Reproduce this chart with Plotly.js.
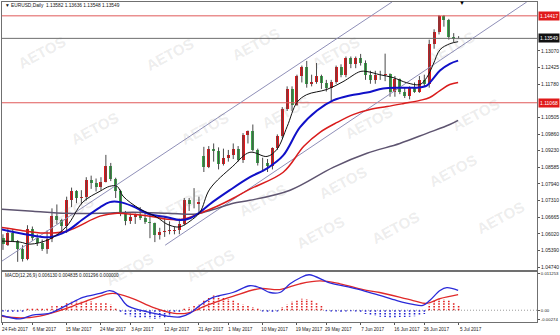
<!DOCTYPE html>
<html><head><meta charset="utf-8">
<script src="https://cdn.plot.ly/plotly-3.0.1.min.js"></script>
<style>html,body{margin:0;padding:0;background:#fff}#c{width:560px;height:335px}</style>
</head><body><div id="c"></div>
<script>
// ---- categories (trading days) ----
const dates = ['2017-02-24','2017-02-27','2017-02-28','2017-03-01','2017-03-02','2017-03-03','2017-03-06','2017-03-07','2017-03-08','2017-03-09','2017-03-10','2017-03-13','2017-03-14','2017-03-15','2017-03-16','2017-03-17','2017-03-20','2017-03-21','2017-03-22','2017-03-23','2017-03-24','2017-03-27','2017-03-28','2017-03-29','2017-03-30','2017-03-31','2017-04-03','2017-04-04','2017-04-05','2017-04-06','2017-04-07','2017-04-10','2017-04-11','2017-04-12','2017-04-13','2017-04-14','2017-04-17','2017-04-18','2017-04-19','2017-04-20','2017-04-21','2017-04-24','2017-04-25','2017-04-26','2017-04-27','2017-04-28','2017-05-01','2017-05-02','2017-05-03','2017-05-04','2017-05-05','2017-05-08','2017-05-09','2017-05-10','2017-05-11','2017-05-12','2017-05-15','2017-05-16','2017-05-17','2017-05-18','2017-05-19','2017-05-22','2017-05-23','2017-05-24','2017-05-25','2017-05-26','2017-05-29','2017-05-30','2017-05-31','2017-06-01','2017-06-02','2017-06-05','2017-06-06','2017-06-07','2017-06-08','2017-06-09','2017-06-12','2017-06-13','2017-06-14','2017-06-15','2017-06-16','2017-06-19','2017-06-20','2017-06-21','2017-06-22','2017-06-23','2017-06-26','2017-06-27','2017-06-28','2017-06-29','2017-06-30','2017-07-03','2017-07-04','2017-07-05'];

// ---- OHLC ----
const open  = [1.0585,1.0560,1.0605,1.0575,1.0545,1.0505,1.0620,1.0585,1.0567,1.0543,1.0582,1.0671,1.0655,1.0633,1.0732,1.0765,1.0740,1.0742,1.0810,1.0797,1.0783,1.0800,1.0865,1.0815,1.0766,1.0677,1.0652,1.0667,1.0673,1.0664,1.0648,1.0643,1.0598,1.0608,1.0612,1.0613,1.0617,1.0641,1.0733,1.0717,1.0715,1.0900,1.0860,1.0930,1.0922,1.0872,1.0895,1.0905,1.0930,1.0885,1.0983,1.0998,1.0925,1.0875,1.0873,1.0862,1.0933,1.0980,1.1082,1.1160,1.1100,1.1208,1.1243,1.1180,1.1185,1.1210,1.1182,1.1165,1.1185,1.1245,1.1215,1.1280,1.1255,1.1280,1.1260,1.1212,1.1196,1.1215,1.1212,1.1216,1.1150,1.1197,1.1150,1.1132,1.1165,1.1150,1.1195,1.1180,1.1335,1.1378,1.1442,1.1425,1.1360,1.13582];
const high  = [1.0600,1.0620,1.0620,1.0578,1.0558,1.0635,1.0630,1.0600,1.0580,1.0615,1.0700,1.0715,1.0660,1.0745,1.0780,1.0770,1.0770,1.0820,1.0826,1.0815,1.0820,1.0906,1.0875,1.0818,1.0772,1.0690,1.0680,1.0680,1.0705,1.0685,1.0680,1.0645,1.0625,1.0665,1.0650,1.0630,1.0660,1.0740,1.0740,1.0778,1.0745,1.0937,1.0940,1.0950,1.0935,1.0930,1.0925,1.0950,1.0940,1.0990,1.1000,1.1023,1.0930,1.0895,1.0890,1.0935,1.0985,1.1090,1.1170,1.1170,1.1215,1.1250,1.1268,1.1215,1.1260,1.1215,1.1195,1.1195,1.1250,1.1255,1.1285,1.1285,1.1285,1.1295,1.1270,1.1230,1.1230,1.1230,1.1296,1.1220,1.1210,1.1200,1.1165,1.1170,1.1185,1.1210,1.1215,1.1350,1.1390,1.1445,1.1445,1.1430,1.1375,1.13636];
const low   = [1.0540,1.0555,1.0570,1.0494,1.0495,1.0500,1.0575,1.0555,1.0536,1.0525,1.0570,1.0640,1.0600,1.0605,1.0705,1.0720,1.0715,1.0730,1.0775,1.0765,1.0770,1.0800,1.0805,1.0740,1.0670,1.0635,1.0640,1.0640,1.0655,1.0640,1.0585,1.0570,1.0580,1.0590,1.0600,1.0600,1.0600,1.0635,1.0690,1.0700,1.0680,1.0840,1.0855,1.0880,1.0850,1.0865,1.0880,1.0890,1.0880,1.0875,1.0950,1.0920,1.0865,1.0840,1.0840,1.0850,1.0925,1.0970,1.1075,1.1075,1.1095,1.1185,1.1165,1.1170,1.1180,1.1160,1.1150,1.1110,1.1180,1.1205,1.1205,1.1240,1.1240,1.1250,1.1195,1.1180,1.1180,1.1195,1.1190,1.1130,1.1130,1.1140,1.1125,1.1120,1.1145,1.1145,1.1170,1.1165,1.1315,1.1370,1.1400,1.1350,1.1340,1.13548];
const close = [1.0562,1.0605,1.0575,1.0545,1.0505,1.0620,1.0585,1.0567,1.0543,1.0582,1.0671,1.0655,1.0633,1.0732,1.0765,1.0740,1.0742,1.0810,1.0797,1.0783,1.0800,1.0865,1.0815,1.0766,1.0677,1.0652,1.0667,1.0673,1.0664,1.0648,1.0643,1.0598,1.0608,1.0612,1.0613,1.0617,1.0641,1.0733,1.0717,1.0715,1.0726,1.0860,1.0930,1.0922,1.0872,1.0895,1.0905,1.0930,1.0885,1.0983,1.0998,1.0925,1.0875,1.0873,1.0862,1.0933,1.0980,1.1082,1.1160,1.1100,1.1208,1.1243,1.1180,1.1185,1.1210,1.1182,1.1165,1.1185,1.1245,1.1215,1.1280,1.1255,1.1280,1.1260,1.1212,1.1196,1.1215,1.1212,1.1216,1.1150,1.1197,1.1150,1.1132,1.1165,1.1150,1.1195,1.1180,1.1335,1.1378,1.1442,1.1425,1.1360,1.1351,1.13549];

// ---- moving averages (bar index, price) ----
const maBlackIdx = [-0.5,3.5,5.5,9.6,13,16.3,19.8,21.8,23.3,24.5,28,31.4,33.5,35.5,36.5,38.2,40.2,42.2,46.9,50.4,53.9,55.9,58,60,62,66.1,69.4,72.9,74.3,76.9,79.6,82.4,85.1,86.5,87.8,89.2,91.2,92.9];
const maBlackVal = [1.0574,1.0570,1.0562,1.0582,1.0631,1.0724,1.0766,1.0785,1.0785,1.0747,1.0697,1.0666,1.0639,1.0628,1.0631,1.0651,1.0685,1.0774,1.0862,1.0916,1.0900,1.0927,1.1015,1.1108,1.1138,1.1158,1.1188,1.1227,1.1227,1.1215,1.1204,1.1184,1.1177,1.1204,1.1254,1.1311,1.1334,1.1342];
const maBlueIdx = [-0.5,5.5,9.6,13,16.3,19.8,21.8,23.9,26.5,30,33.5,36.1,38.2,40.2,42.2,46.3,50.4,53.9,57.2,60.6,64.1,67.4,70.8,74.3,77.6,81,84.5,86.5,87.8,89.2,91.2,92.9];
const maBlueVal = [1.0620,1.0597,1.0589,1.0612,1.0658,1.0704,1.0724,1.0724,1.0708,1.0677,1.0666,1.0655,1.0662,1.0685,1.0716,1.0770,1.0820,1.0854,1.0904,1.1012,1.1077,1.1116,1.1135,1.1146,1.1162,1.1165,1.1165,1.1173,1.1200,1.1231,1.1257,1.1269];
const maRedIdx = [-0.5,3.5,8.2,13,19.8,23.3,26.5,30,33.5,36.7,40.2,43.7,47,50.4,57.2,61.4,64.7,68.2,71.6,74.9,78.4,81.8,85.1,87.1,89.2,91.2,92.9];
const maRedVal = [1.0627,1.0616,1.0605,1.0612,1.0670,1.0681,1.0677,1.0670,1.0658,1.0658,1.0681,1.0708,1.0739,1.0774,1.0839,1.0939,1.0993,1.1031,1.1062,1.1081,1.1092,1.1104,1.1116,1.1127,1.1154,1.1177,1.1185];
const maGreyIdx = [-0.5,6.1,13,19.8,26.5,33.5,38.8,40.2,43.7,47,50.4,58.6,67.4,74.3,81,86.5,91.2,92.9];
const maGreyVal = [1.0697,1.0689,1.0681,1.0681,1.0685,1.0681,1.0677,1.0681,1.0700,1.0720,1.0731,1.0770,1.0858,1.0912,1.0950,1.0989,1.1023,1.1039];

// ---- channel lines & levels ----
const chanUpperIdx = [-0.2, 79.4], chanUpperVal = [1.0497, 1.1495];
const chanLowerIdx = [33.1, 106.9], chanLowerVal = [1.0558, 1.1495];
const redLevels = [1.14417, 1.11068];
const bidLevel = 1.13549;

// ---- MACD (12,26,9) ----
const macdIdx = [-0.5,3.5,6,9.6,13,16.3,19.8,21.8,23.3,25.3,28,30.6,33.5,36.1,38.2,40.2,42.9,46.9,50.4,52.4,54.5,56.5,58.6,60.6,62.5,66.7,70.2,73.5,76.9,80.4,83.7,85.7,87.1,89.2,90.6,92.9];
const macdVal = [-0.0015,-0.0027,-0.0015,-0.0009,0.0015,0.0040,0.0052,0.0061,0.0052,0.0015,0.0000,-0.0009,-0.0018,-0.0021,-0.0009,0.0015,0.0040,0.0055,0.0076,0.0070,0.0055,0.0055,0.0082,0.0100,0.0110,0.0085,0.0073,0.0061,0.0046,0.0030,0.0018,0.0015,0.0030,0.0061,0.0070,0.00613];
const signalIdx = [-0.5,3.5,7.5,13,18.4,22.4,26.5,30.6,34.7,37.6,41.6,46.9,52.4,56.5,60.6,64.7,68.8,73.5,76.9,83.7,86.5,89.2,92.9];
const signalVal = [-0.0018,-0.0024,-0.0018,0.0006,0.0036,0.0052,0.0036,0.0009,-0.0009,-0.0009,0.0015,0.0043,0.0067,0.0064,0.0082,0.0091,0.0082,0.0064,0.0055,0.0030,0.0021,0.0036,0.004835];
const histVal = [-0.0004,-0.0005,-0.0005,-0.0006,-0.0005,0.0006,0.0007,0.0006,0.0007,0.0008,0.0012,0.0016,0.0017,0.0022,0.0026,0.0027,0.0026,0.0028,0.0027,0.0024,0.0022,0.0022,0.0018,0.0008,-0.0008,-0.0015,-0.0019,-0.0022,-0.0024,-0.0025,-0.0026,-0.0027,-0.0026,-0.0024,-0.0020,-0.0012,-0.0006,0.0006,0.0010,0.0013,0.0018,0.0030,0.0040,0.0046,0.0045,0.0040,0.0035,0.0030,0.0022,0.0018,0.0014,0.0010,0.0006,-0.0004,-0.0006,-0.0006,-0.0004,0.0010,0.0018,0.0026,0.0032,0.0036,0.0035,0.0030,0.0024,0.0015,-0.0003,-0.0004,-0.0004,-0.0005,-0.0004,-0.0003,-0.0004,-0.0008,-0.0012,-0.0016,-0.0018,-0.0020,-0.0021,-0.0022,-0.0022,-0.0021,-0.0021,-0.0020,-0.0019,-0.0017,-0.0012,0.0018,0.0030,0.0036,0.0034,0.0030,0.0022,0.0013];

// ---- axis labels ----
const priceTicks = [1.13070,1.12425,1.11780,1.10505,1.09860,1.09230,1.08585,1.07940,1.07310,1.06665,1.06020,1.05390,1.04740];
const priceTickText = ['1.13070','1.12425','1.11780','1.10505','1.09860','1.09230','1.08585','1.07940','1.07310','1.06665','1.06020','1.05390','1.04740'];
const macdTicks = [0.011253, 0, -0.00274];
const macdTickText = ['0.011253','0.00','-0.00274'];
const tickDates = ['2017-02-24','2017-03-06','2017-03-15','2017-03-24','2017-04-03','2017-04-12','2017-04-21','2017-05-01','2017-05-10','2017-05-19','2017-05-29','2017-06-07','2017-06-16','2017-06-26','2017-07-05'];
const tickLabels = ['24 Feb 2017','6 Mar 2017','15 Mar 2017','24 Mar 2017','3 Apr 2017','12 Apr 2017','21 Apr 2017','1 May 2017','10 May 2017','19 May 2017','29 May 2017','7 Jun 2017','16 Jun 2017','26 Jun 2017','5 Jul 2017'];
const headerText = 'EURUSD,Daily  1.13582 1.13636 1.13548 1.13549';
const macdHeader = 'MACD(12,26,9) 0.006130 0.004835 0.001296 0.000000';
const watermark = 'AETOS';

// ---- build ----
const idx = dates.map((d,i)=>i);
const upCol = '#e3161b', dnCol = '#3aa64a';
const wx=[], wy=[];
idx.forEach(i=>{wx.push(i,i,null); wy.push(low[i],high[i],null);});
const bodyBase = idx.map(i=>Math.min(open[i],close[i]));
const bodyLen = idx.map(i=>Math.max(Math.abs(close[i]-open[i]),0.0003));
const bodyCol = idx.map(i=>close[i]>=open[i]?upCol:dnCol);

const hpx=[],hpy=[],hnx=[],hny=[];
histVal.forEach((v,i)=>{ if(v>=0){hpx.push(i,i,null);hpy.push(0,v,null);} else {hnx.push(i,i,null);hny.push(0,v,null);} });

const X0=-0.2, X1=109;
const traces = [
 {type:'scatter',mode:'lines',x:wx,y:wy,line:{color:'#4a4a4a',width:1},hoverinfo:'skip'},
 {type:'bar',x:idx,base:bodyBase,y:bodyLen,width:0.62,marker:{color:bodyCol,line:{width:0}},hoverinfo:'skip'},
 {type:'scatter',mode:'lines',x:[X0,X1],y:[redLevels[0],redLevels[0]],line:{color:'#e05a5a',width:1}},
 {type:'scatter',mode:'lines',x:[X0,X1],y:[redLevels[1],redLevels[1]],line:{color:'#e05a5a',width:1}},
 {type:'scatter',mode:'lines',x:[X0,X1],y:[bidLevel,bidLevel],line:{color:'#6e6e6e',width:1}},
 {type:'scatter',mode:'lines',x:chanUpperIdx,y:chanUpperVal,line:{color:'#8f8fb8',width:1}},
 {type:'scatter',mode:'lines',x:chanLowerIdx,y:chanLowerVal,line:{color:'#8f8fb8',width:1}},
 {type:'scatter',mode:'lines',x:maGreyIdx,y:maGreyVal,line:{color:'#5e5470',width:1.5,shape:'spline'}},
 {type:'scatter',mode:'lines',x:maRedIdx,y:maRedVal,line:{color:'#d91c1c',width:1.5,shape:'spline'}},
 {type:'scatter',mode:'lines',x:maBlueIdx,y:maBlueVal,line:{color:'#1010c8',width:2,shape:'spline'}},
 {type:'scatter',mode:'lines',x:maBlackIdx,y:maBlackVal,line:{color:'#111111',width:1,shape:'spline'}},
 // MACD
 {type:'scatter',mode:'lines',x:[X0,X1],y:[0,0],xaxis:'x2',yaxis:'y2',line:{color:'#9a9a9a',width:1,dash:'1px,2px'}},
 {type:'scatter',mode:'lines',x:hpx,y:hpy,xaxis:'x2',yaxis:'y2',line:{color:'#e02020',width:1.6,dash:'1.5px,1.2px'}},
 {type:'scatter',mode:'lines',x:hnx,y:hny,xaxis:'x2',yaxis:'y2',line:{color:'#2020d0',width:1.6,dash:'1.5px,1.2px'}},
 {type:'scatter',mode:'lines',x:signalIdx,y:signalVal,xaxis:'x2',yaxis:'y2',line:{color:'#e02a2a',width:1.3,shape:'spline'}},
 {type:'scatter',mode:'lines',x:macdIdx,y:macdVal,xaxis:'x2',yaxis:'y2',line:{color:'#2a2ad8',width:1.3,shape:'spline'}}
];

const W=560,H=335,L=2,R=23,T=2,B=13;
const pw=W-L-R, ph=H-T-B;
const px2x = p => (p-L)/pw;
const py2y = p => (H-B-p)/ph;
const fnt = 'Liberation Sans, Arial, sans-serif';

const wmPos = [[12,30],[140,32],[255,22],[365,30],[480,25],[65,128],[175,128],[285,112],[398,100],[505,92],[40,212],[150,205],[262,200],[372,182],[482,170],[100,292],[210,288],[320,255],[425,250],[530,240]];
const annotations = wmPos.map(p=>({xref:'paper',yref:'paper',x:px2x(p[0]),y:py2y(p[1]),text:'<b>'+watermark+'</b>',showarrow:false,textangle:-28,font:{family:fnt,size:15,color:'rgba(120,120,120,0.14)'}}));

annotations.push({xref:'paper',yref:'paper',x:px2x(3),y:py2y(6),xanchor:'left',yanchor:'middle',text:'▼ '+headerText,showarrow:false,font:{family:fnt,size:4.8,color:'#111'}});
annotations.push({xref:'paper',yref:'paper',x:px2x(3),y:py2y(275),xanchor:'left',yanchor:'middle',text:macdHeader,showarrow:false,font:{family:fnt,size:4.6,color:'#111'}});
annotations.push({xref:'paper',yref:'paper',x:px2x(462),y:py2y(3),xanchor:'center',yanchor:'middle',text:'▼',showarrow:false,font:{family:fnt,size:6,color:'#000'}});
const boxes = [[redLevels[0],'#e01a1a'],[bidLevel,'#111111'],[redLevels[1],'#e01a1a']];
boxes.forEach(b=>annotations.push({xref:'paper',yref:'y',x:1,y:b[0],xanchor:'left',yanchor:'middle',xshift:1,text:b[0].toFixed(5),showarrow:false,bgcolor:b[1],borderpad:1,font:{family:fnt,size:5,color:'#fff'}}));

const layout = {
 width:W,height:H,margin:{l:L,r:R,t:T,b:B},paper_bgcolor:'#fff',plot_bgcolor:'#fff',showlegend:false,
 xaxis:{anchor:'y',range:[X0,X1],showticklabels:false,ticks:'',showgrid:false,zeroline:false,showline:true,mirror:true,linecolor:'#707070',linewidth:1},
 yaxis:{domain:[py2y(270),1],range:[1.04625,1.1495],side:'right',tickmode:'array',tickvals:priceTicks,ticktext:priceTickText,tickfont:{family:fnt,size:5,color:'#222'},ticks:'outside',ticklen:2,tickcolor:'#555',showgrid:false,zeroline:false,showline:true,mirror:true,linecolor:'#707070',linewidth:1},
 xaxis2:{anchor:'y2',matches:'x',range:[X0,X1],tickmode:'array',tickvals:tickDates.map(d=>dates.indexOf(d)),ticktext:tickLabels,tickfont:{family:fnt,size:4.6,color:'#222'},ticks:'outside',ticklen:2,tickcolor:'#555',ticklabelshift:12,ticklabelstandoff:0,showgrid:false,zeroline:false,showline:true,mirror:true,linecolor:'#707070',linewidth:1},
 yaxis2:{domain:[0,py2y(272)],range:[-0.00365,0.01186],side:'right',tickmode:'array',tickvals:macdTicks,ticktext:macdTickText,tickfont:{family:fnt,size:4.3,color:'#222'},ticks:'outside',ticklen:2,tickcolor:'#555',showgrid:false,zeroline:false,showline:true,mirror:true,linecolor:'#707070',linewidth:1},
 annotations:annotations,
 bargap:0
};
Plotly.newPlot('c',traces,layout,{staticPlot:true,displayModeBar:false});
</script></body></html>
